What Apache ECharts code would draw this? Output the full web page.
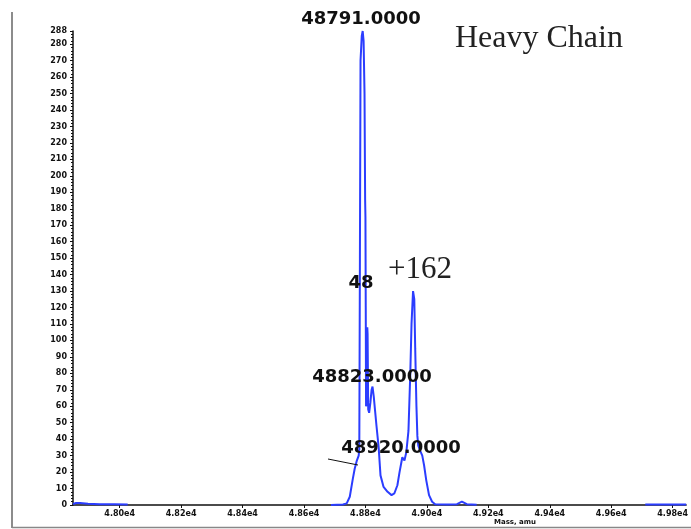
<!DOCTYPE html>
<html>
<head>
<meta charset="utf-8">
<script src="https://cdn.jsdelivr.net/npm/echarts@6/dist/echarts.min.js"></script>
<style>
  html, body { margin: 0; padding: 0; background: #fff; }
  #chart { width: 691px; height: 529px; }
</style>
</head>
<body>
<div id="chart"></div>
<script>
// ---- data (mass in amu, intensity in counts); null marks gaps in the trace ----
const masses = [
  47848, 47858, 47871, 47897, 47935, 47984, 48026,
  48300,
  48688, 48727, 48739, 48749, 48759, 48765, 48772, 48778, 48780, 48782, 48784, 48788,
  48791, 48794, 48797, 48799, 48800, 48801, 48802, 48804, 48806, 48807, 48809, 48812,
  48816, 48820, 48823, 48827, 48831, 48836, 48843, 48849, 48859, 48872, 48885, 48894,
  48904, 48911, 48917, 48920, 48927, 48933, 48940, 48946, 48950, 48955, 48959, 48962,
  48966, 48969, 48972, 48978, 48985, 48991, 48998, 49007, 49017, 49027, 49066, 49098,
  49114, 49130, 49162,
  49400,
  49711, 49760, 49800, 49844
];
const intensities = [
  0.6, 1.2, 1.2, 0.8, 0.5, 0.4, 0.3,
  null,
  0, 0.3, 1, 5, 16, 22, 27, 30, 34, 150, 270, 285,
  288, 282, 250, 185, 175, 120, 60, 62, 108, 104, 58, 56,
  62, 70, 72, 66, 58, 48, 35, 18, 11, 8, 6, 7,
  12, 20, 26, 29, 27, 32, 45, 80, 110, 130, 125, 95,
  60, 42, 36, 33, 30, 24, 15, 6, 2, 0.5, 0.3, 0.5,
  2, 0.5, 0.2,
  null,
  0.3, 0.3, 0.3, 0.3
];
const xTickValues = [48000, 48200, 48400, 48600, 48800, 49000, 49200, 49400, 49600, 49800];
const xTickLabels = ['4.80e4', '4.82e4', '4.84e4', '4.86e4', '4.88e4', '4.90e4', '4.92e4', '4.94e4', '4.96e4', '4.98e4'];
const peakLabels = ['48791.0000', '48', '48823.0000', '48920.0000'];
const titleText = 'Heavy Chain';
const shiftText = '+162';
const xAxisName = 'Mass, amu';

const seriesData = masses.map((m, i) => [m, intensities[i] === null ? '-' : intensities[i]]);

const chart = echarts.init(document.getElementById('chart'), null, { renderer: 'canvas' });

const boldFont = 'DejaVu Sans';
const serifFont = '"Liberation Serif", "DejaVu Serif", serif';

chart.setOption({
  animation: false,
  backgroundColor: '#ffffff',
  grid: { left: 73, right: 0, top: 31, bottom: 24, containLabel: false },
  xAxis: {
    type: 'value',
    min: 47848,
    max: 49844,
    axisLine: { show: true, lineStyle: { color: '#111', width: 1.5 } },
    axisTick: { show: true, length: 3, lineStyle: { color: '#111' }, customValues: xTickValues },
    axisLabel: {
      show: true,
      customValues: xTickValues,
      margin: 5,
      fontFamily: boldFont,
      fontWeight: 'bold',
      fontSize: 8,
      color: '#111',
      formatter: v => xTickLabels[xTickValues.indexOf(v)] || ''
    },
    splitLine: { show: false }
  },
  yAxis: {
    type: 'value',
    min: 0,
    max: 288,
    interval: 10,
    axisLine: { show: true, lineStyle: { color: '#111', width: 1.5 } },
    axisTick: { show: true, length: 3, lineStyle: { color: '#111' } },
    minorTick: { show: true, splitNumber: 5, length: 2, lineStyle: { color: '#111' } },
    axisLabel: {
      margin: 6,
      fontFamily: boldFont,
      fontWeight: 'bold',
      fontSize: 8,
      color: '#111'
    },
    splitLine: { show: false }
  },
  series: [{
    type: 'line',
    data: seriesData,
    showSymbol: false,
    symbol: 'none',
    connectNulls: false,
    lineStyle: { color: '#2b3dff', width: 2 },
    z: 3
  }],
  graphic: [
    // outer frame
    { type: 'line', shape: { x1: 12, y1: 12, x2: 12, y2: 528 }, style: { stroke: '#666', lineWidth: 1.5 } },
    { type: 'line', shape: { x1: 12, y1: 527.5, x2: 691, y2: 527.5 }, style: { stroke: '#888', lineWidth: 1.5 } },
    // peak annotations
    { type: 'text', x: 361, y: 19, style: { text: peakLabels[0], font: 'bold 18px ' + boldFont, fill: '#111', align: 'center', verticalAlign: 'middle' }, z: 10 },
    { type: 'text', x: 361, y: 283, style: { text: peakLabels[1], font: 'bold 18px ' + boldFont, fill: '#111', align: 'center', verticalAlign: 'middle' }, z: 10 },
    { type: 'text', x: 372, y: 377, style: { text: peakLabels[2], font: 'bold 18px ' + boldFont, fill: '#111', align: 'center', verticalAlign: 'middle' }, z: 10 },
    { type: 'text', x: 401, y: 448, style: { text: peakLabels[3], font: 'bold 18px ' + boldFont, fill: '#111', align: 'center', verticalAlign: 'middle' }, z: 10 },
    { type: 'line', shape: { x1: 328, y1: 459, x2: 358, y2: 465 }, style: { stroke: '#111', lineWidth: 1 }, z: 10 },
    // title-like annotations
    { type: 'text', x: 455, y: 39, style: { text: titleText, font: '32px ' + serifFont, fill: '#222', align: 'left', verticalAlign: 'middle' }, z: 10 },
    { type: 'text', x: 420, y: 270, style: { text: shiftText, font: '31px ' + serifFont, fill: '#222', align: 'center', verticalAlign: 'middle' }, z: 10 },
    // x axis name
    { type: 'text', x: 515, y: 522, style: { text: xAxisName, font: 'bold 7px ' + boldFont, fill: '#111', align: 'center', verticalAlign: 'middle' }, z: 10 }
  ]
});
</script>
</body>
</html>
